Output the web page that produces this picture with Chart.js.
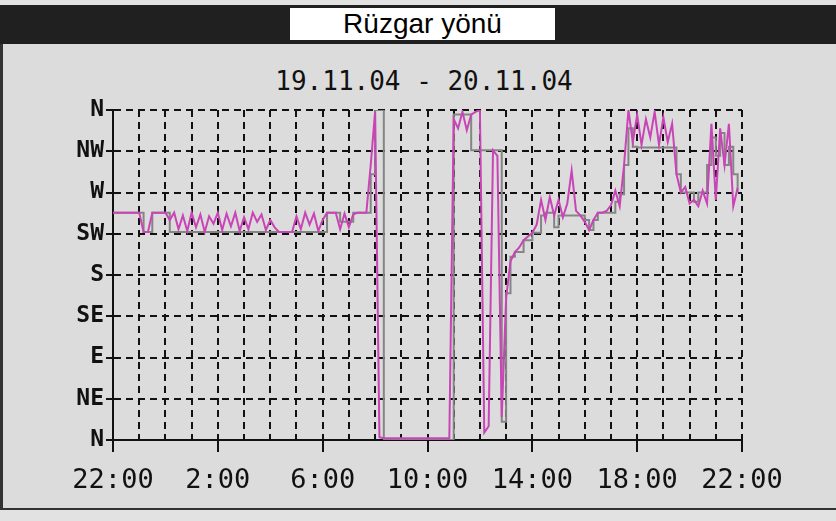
<!DOCTYPE html>
<html>
<head>
<meta charset="utf-8">
<script src="https://cdn.jsdelivr.net/npm/chart.js@4.4.1/dist/chart.umd.min.js"></script>
<style>
  html, body { margin: 0; padding: 0; }
  body { width: 836px; height: 521px; position: relative; overflow: hidden; background: #e2e2e2; }
  #band { position: absolute; left: 0; top: 5px; width: 836px; height: 39px; background: #202020; }
  #titleBox { position: absolute; left: 290px; top: 8px; width: 265px; height: 32px; background: #fff;
    font: 28px "Liberation Sans", Arial, sans-serif; color: #000; text-align: center; line-height: 32px; }
  #panel { position: absolute; left: 0; top: 44px; width: 836px; height: 466px; background: #dcdcdc;
    border-left: 3px solid #333; border-bottom: 2px solid #333; box-sizing: border-box; }
  #subtitle { position: absolute; left: 0; width: 848px; top: 66px; text-align: center;
    font: 26px "DejaVu Sans Mono", monospace; color: #111; }
  #chart { position: absolute; left: 0; top: 0; }
</style>
</head>
<body>
<div id="band"></div>
<div id="titleBox">Rüzgar yönü</div>
<div id="panel"></div>
<div id="subtitle">19.11.04 - 20.11.04</div>
<canvas id="chart" width="836" height="521"></canvas>
<script>
// readings every 10 minutes, starting 19.11.04 22:00
const stepHours = 1 / 6;
const xTickLabels = ['22:00', '2:00', '6:00', '10:00', '14:00', '18:00', '22:00'];
const yTickLabels = ['N', 'NE', 'E', 'SE', 'S', 'SW', 'W', 'NW', 'N'];

// wind direction, degrees (raw samples, magenta)
const rawDir = [
  248, 248, 248, 248, 248, 248, 248, 227, 227, 248, 248, 248, 248, 240, 248, 230, 245, 228, 248, 232,
  246, 227, 244, 236, 248, 229, 247, 233, 248, 228, 243, 230, 248, 238, 246, 229, 240, 232, 227, 227,
  227, 227, 244, 230, 248, 235, 247, 228, 240, 248, 248, 248, 230, 247, 232, 246, 248, 248, 248, 300,
  358, 3, 2, 2, 2, 2, 2, 2, 2, 2, 2, 2, 2, 2, 2, 2, 2, 2, 350, 340,
  358, 338, 355, 358, 360, 8, 15, 316, 310, 25, 155, 195, 205, 210, 218, 222, 226, 235, 262, 240,
  265, 245, 262, 243, 258, 294, 250, 245, 238, 229, 240, 248, 248, 250, 256, 272, 255, 300, 360, 325,
  355, 322, 350, 330, 358, 322, 352, 325, 345, 290, 270, 276, 258, 262, 255, 272, 258, 345, 262, 340,
  300, 345, 255, 275
];

// wind direction, degrees (averaged, grey)
const avgDir = [
  248, 248, 248, 248, 248, 248, 248, 227, 227, 248, 248, 248, 248, 227, 227, 227, 227, 227, 227, 227,
  227, 227, 227, 227, 227, 227, 227, 227, 227, 227, 227, 227, 227, 227, 227, 227, 227, 227, 227, 227,
  227, 227, 227, 227, 227, 227, 227, 227, 227, 248, 248, 248, 238, 238, 238, 248, 248, 248, 248, 290,
  360, 360, 0, 0, 0, 0, 0, 0, 0, 0, 0, 0, 0, 0, 0, 0, 0, 0, 355, 355,
  355, 355, 316, 316, 316, 316, 316, 316, 316, 20, 160, 200, 205, 205, 218, 218, 226, 226, 245, 248,
  248, 232, 245, 245, 245, 245, 245, 245, 240, 229, 240, 248, 248, 248, 248, 260, 268, 300, 340, 320,
  319, 319, 319, 319, 319, 319, 319, 319, 319, 290, 270, 270, 270, 260, 270, 270, 300, 330, 310, 335,
  300, 320, 290, 270
];

const toPoints = arr => arr.map((v, i) => ({ x: i * stepHours, y: v }));

new Chart(document.getElementById('chart'), {
  type: 'line',
  data: {
    datasets: [{
      data: toPoints(rawDir),
      borderColor: '#c944b6',
      borderWidth: 2,
      pointRadius: 0,
      order: 1
    }, {
      data: toPoints(avgDir),
      borderColor: '#858585',
      borderWidth: 2,
      pointRadius: 0,
      stepped: true,
      order: 2
    }]
  },
  options: {
    responsive: false,
    animation: false,
    devicePixelRatio: 1,
    layout: { padding: { top: 110, right: 94, left: 0, bottom: 0 } },
    plugins: { legend: { display: false }, tooltip: { enabled: false }, title: { display: false } },
    scales: {
      x: {
        type: 'linear',
        min: 0,
        max: 24,
        afterFit: scale => { scale.height = 81; },
        ticks: {
          stepSize: 1,
          autoSkip: false,
          maxRotation: 0,
          padding: 13,
          color: '#111',
          font: { family: 'DejaVu Sans Mono', size: 27 },
          callback: v => (v % 4 === 0 ? xTickLabels[v / 4] : '')
        },
        grid: {
          color: '#111',
          lineWidth: 2,
          tickLength: 12,
          tickWidth: 2,
          tickColor: ctx => (ctx.tick && ctx.tick.value % 4 === 0 ? '#111' : 'rgba(0,0,0,0)')
        },
        border: { display: true, color: '#111', width: 2, dash: [7, 5] }
      },
      y: {
        min: 0,
        max: 360,
        afterFit: scale => { scale.width = 113; },
        ticks: {
          stepSize: 45,
          padding: 2,
          color: '#111',
          font: { family: 'DejaVu Sans Mono', size: 23, weight: 'bold' },
          callback: v => yTickLabels[v / 45]
        },
        grid: { color: '#111', lineWidth: 2, tickLength: 7, tickWidth: 2, tickColor: '#111' },
        border: { display: true, color: '#111', width: 2, dash: [7, 5] }
      }
    }
  }
});
</script>
</body>
</html>
